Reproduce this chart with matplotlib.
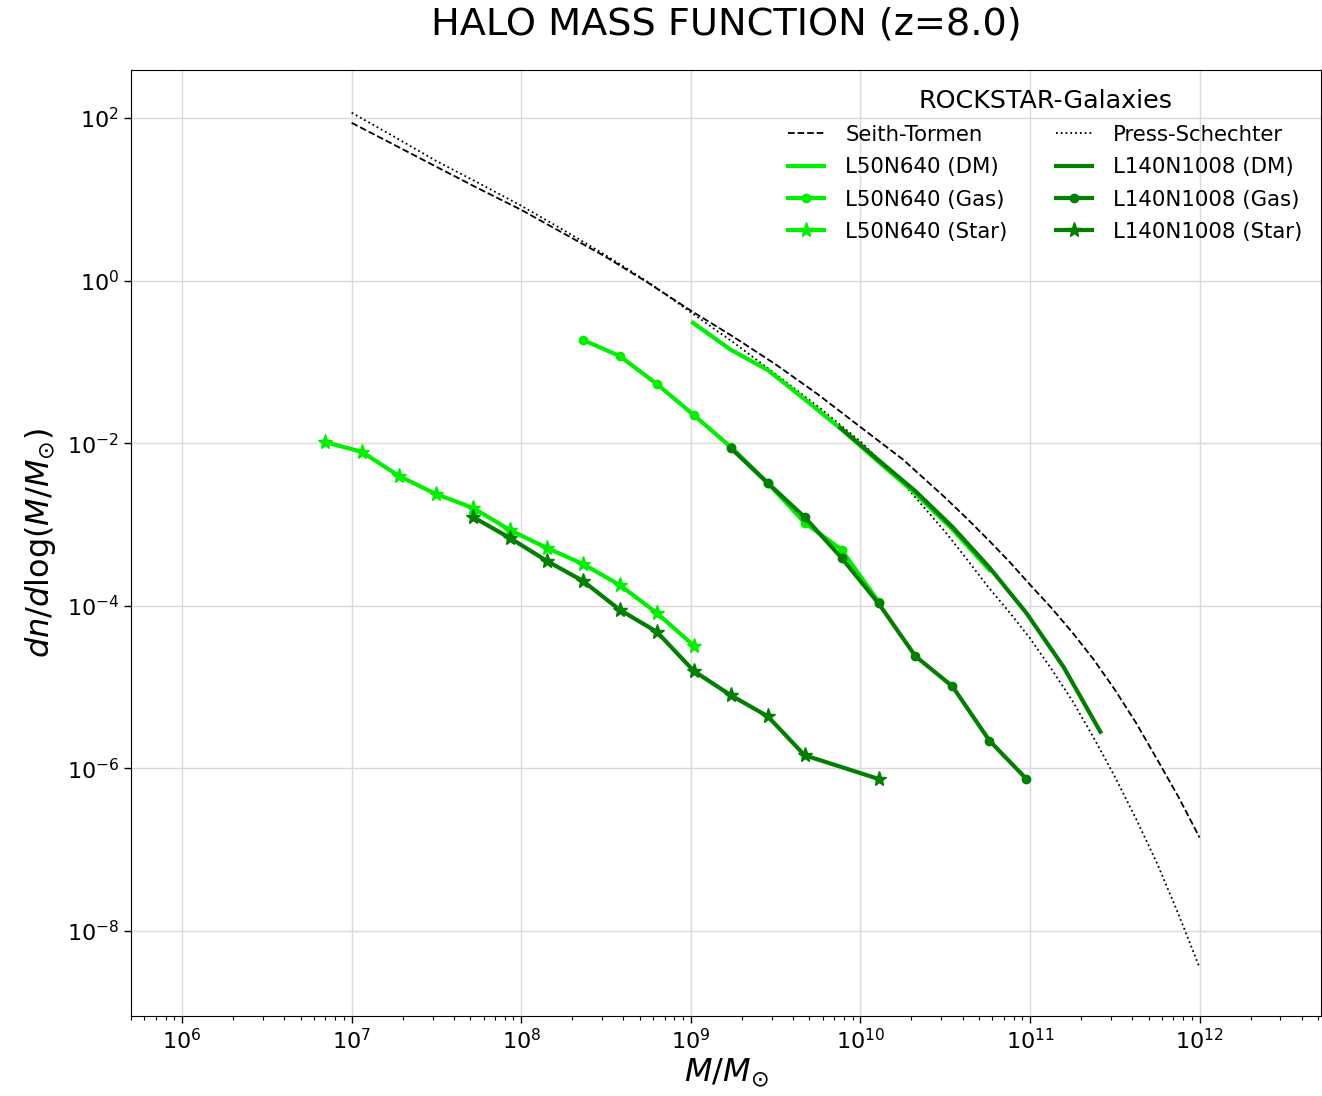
import matplotlib
matplotlib.use("Agg")
import matplotlib.pyplot as plt

# ---------------- data ----------------
# analytic mass functions (sampled along the drawn curves)
hmf_mass = [1.00e7, 1.78e7, 3.16e7, 5.62e7, 1.00e8, 1.78e8, 3.16e8, 5.62e8,
            1.00e9, 1.78e9, 3.16e9, 5.62e9, 1.00e10, 1.78e10, 3.16e10, 4.22e10,
            5.62e10, 7.50e10, 1.00e11, 1.33e11, 1.78e11, 2.37e11, 3.16e11,
            4.22e11, 5.62e11, 7.50e11, 1.00e12]
sheth_tormen = [87.1, 46.8, 25.1, 13.5, 7.41, 3.80, 1.95, 0.933,
                0.427, 0.204, 0.0933, 0.0398, 0.0158, 6.31e-3, 2.14e-3, 1.20e-3,
                6.61e-4, 3.55e-4, 1.82e-4, 9.55e-5, 4.68e-5, 2.19e-5, 9.33e-6,
                3.63e-6, 1.29e-6, 4.47e-7, 1.41e-7]
press_schechter = [116.0, 58.9, 29.5, 15.8, 8.32, 4.17, 2.04, 0.955,
                   0.407, 0.174, 0.0708, 0.0282, 0.0105, 3.24e-3, 8.13e-4, 3.80e-4,
                   1.74e-4, 8.51e-5, 3.98e-5, 1.70e-5, 6.76e-6, 2.40e-6, 7.94e-7,
                   2.40e-7, 6.76e-8, 1.62e-8, 3.55e-9]

# L50N640
l50_dm_mass = [1.03e9, 1.72e9, 2.84e9, 4.69e9, 7.74e9, 1.28e10, 2.11e10, 3.49e10, 5.77e10]
l50_dm = [0.302, 0.141, 0.0794, 0.0347, 0.0148, 5.89e-3, 2.40e-3, 8.71e-4, 2.75e-4]

l50_gas_mass = [2.31e8, 3.81e8, 6.30e8, 1.04e9, 1.72e9, 2.84e9, 4.69e9, 7.74e9, 1.28e10]
l50_gas = [0.186, 0.118, 0.0535, 0.0222, 8.97e-3, 3.24e-3, 1.05e-3, 4.90e-4, 1.12e-4]

l50_star_mass = [6.97e6, 1.151e7, 1.901e7, 3.14e7, 5.19e7, 8.57e7, 1.416e8,
                 2.31e8, 3.81e8, 6.30e8, 1.04e9]
l50_star = [1.035e-2, 7.80e-3, 3.95e-3, 2.37e-3, 1.60e-3, 8.55e-4, 5.14e-4,
            3.27e-4, 1.80e-4, 8.15e-5, 3.24e-5]

# L140N1008
l140_dm_mass = [7.60e9, 1.28e10, 2.11e10, 3.49e10, 5.77e10, 9.53e10, 1.574e11, 2.60e11]
l140_dm = [0.0155, 6.17e-3, 2.57e-3, 9.33e-4, 2.95e-4, 8.13e-5, 1.78e-5, 2.82e-6]

l140_gas_mass = [1.72e9, 2.84e9, 4.69e9, 7.74e9, 1.28e10, 2.11e10, 3.49e10, 5.77e10, 9.53e10]
l140_gas = [8.71e-3, 3.24e-3, 1.23e-3, 3.89e-4, 1.07e-4, 2.40e-5, 1.02e-5, 2.19e-6, 7.41e-7]

l140_star_mass = [5.19e7, 8.57e7, 1.416e8, 2.31e8, 3.81e8, 6.30e8, 1.04e9,
                  1.72e9, 2.84e9, 4.69e9, 1.28e10]
l140_star = [1.236e-3, 6.82e-4, 3.56e-4, 2.02e-4, 8.91e-5, 4.79e-5, 1.58e-5,
             7.94e-6, 4.37e-6, 1.45e-6, 7.41e-7]

title = "HALO MASS FUNCTION (z=8.0)"
legend_title = "ROCKSTAR-Galaxies"

# ---------------- figure ----------------
W, H, DPI = 1322, 1096, 100
fig = plt.figure(figsize=(W / DPI, H / DPI), dpi=DPI)
ax = fig.add_axes([131 / W, (H - 1016) / H, 1190 / W, 946 / H])

light = "#00f000"
dark = "#007f00"
lw = 3.0

h_st, = ax.plot(hmf_mass, sheth_tormen, color="black", ls="--", lw=1.3, label="Seith-Tormen")
h_ps, = ax.plot(hmf_mass, press_schechter, color="black", ls=":", lw=1.3, label="Press-Schechter")

h50dm, = ax.plot(l50_dm_mass, l50_dm, color=light, lw=lw, label="L50N640 (DM)")
h50gas, = ax.plot(l50_gas_mass, l50_gas, color=light, lw=lw, marker="o", ms=6,
                  label="L50N640 (Gas)")
h50st, = ax.plot(l50_star_mass, l50_star, color=light, lw=lw, marker="*", ms=11,
                 label="L50N640 (Star)")

h140dm, = ax.plot(l140_dm_mass, l140_dm, color=dark, lw=lw, label="L140N1008 (DM)")
h140gas, = ax.plot(l140_gas_mass, l140_gas, color=dark, lw=lw, marker="o", ms=6,
                   label="L140N1008 (Gas)")
h140st, = ax.plot(l140_star_mass, l140_star, color=dark, lw=lw, marker="*", ms=11,
                  label="L140N1008 (Star)")

ax.set_xscale("log")
ax.set_yscale("log")
ax.set_xlim(5.0e5, 5.2e12)
ax.set_ylim(9.0e-10, 389)

ax.grid(True, which="major", color="#dadada", lw=1.0)
ax.set_axisbelow(True)
ax.tick_params(axis="both", which="major", labelsize=16, length=5, width=1)
ax.tick_params(axis="both", which="minor", length=3, width=0.8)

ax.set_xlabel(r"$M/M_{\odot}$", fontsize=23, labelpad=2)
ax.set_ylabel(r"$dn/d\log(M/M_{\odot})$", fontsize=23, labelpad=6)
fig.text((131 + 1321) / 2 / W, 1 - 24 / H, title, ha="center", va="center", fontsize=27.5)

leg = ax.legend(handles=[h_st, h50dm, h50gas, h50st, h_ps, h140dm, h140gas, h140st],
                ncol=2, frameon=False, fontsize=15.3, title=legend_title,
                title_fontsize=18.3, loc="upper right",
                bbox_to_anchor=(0.9916, 0.9894), borderaxespad=0,
                handlelength=1.67, handletextpad=1.0, columnspacing=2.3,
                labelspacing=0.58)

fig.savefig("out.png", dpi=DPI)
